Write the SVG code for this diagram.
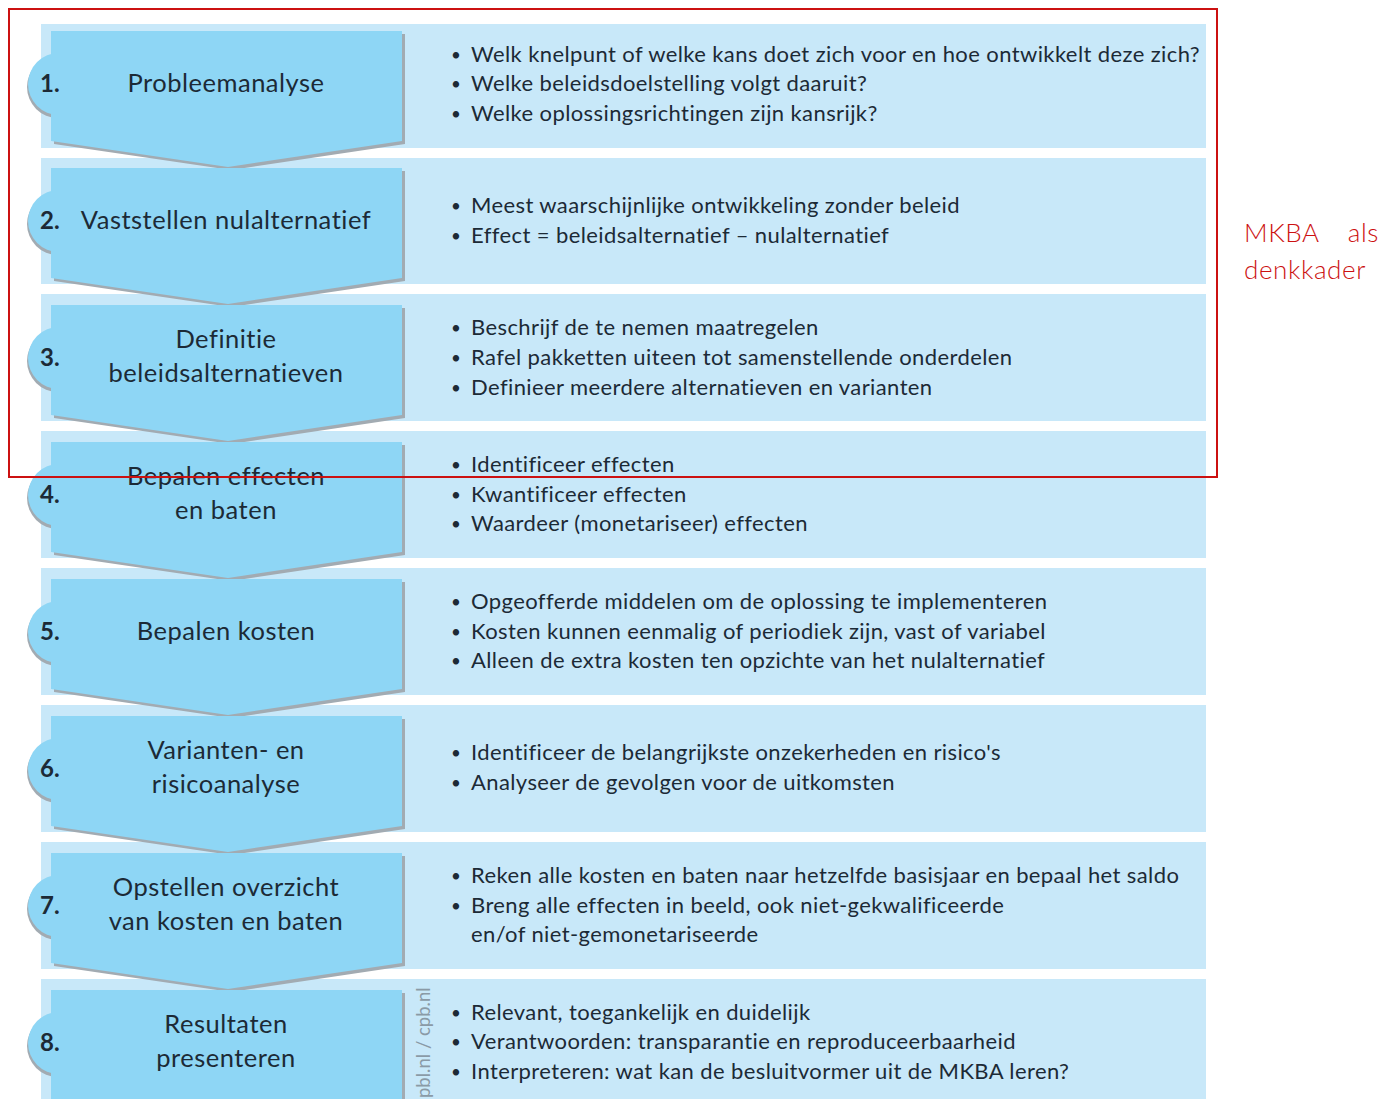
<svg xmlns="http://www.w3.org/2000/svg" width="1383" height="1099" viewBox="0 0 1383 1099">
<style>
.bg{fill:#c8e8f9}
.chev{fill:#8ed6f5}
.shd{fill:#a2abb2}
.num{font-family:Lato,"Open Sans",sans-serif;font-weight:bold;font-size:24px;fill:#1c2a36}
.ttl{font-family:Lato,"Open Sans",sans-serif;font-size:25.5px;letter-spacing:0.5px;fill:#1c2a36;text-anchor:middle}
.txt{font-family:Lato,"Open Sans",sans-serif;font-size:22px;letter-spacing:0.4px;fill:#1c2a36}
.bul{font-family:Lato,"Open Sans",sans-serif;font-size:17px;fill:#1c2a36}
.red{font-family:Lato,"Open Sans",sans-serif;font-weight:300;font-size:26px;letter-spacing:0.6px;fill:#cc1111}
</style>
<defs>
<g id="chevron">
<circle class="shd" cx="58" cy="3" r="31"/>
<polygon class="shd" points="54,-50 405,-50 405,60 231,86 54,60"/>
<circle class="chev" cx="59" cy="0" r="31"/>
<polygon class="chev" points="51,-53 402,-53 402,57 228,83 51,57"/>
</g>
</defs>
<rect width="1383" height="1099" fill="#ffffff"/>
<g id="backgrounds">
<rect class="bg" x="41" y="24" width="1165" height="124"/>
<rect class="bg" x="41" y="158" width="1165" height="126"/>
<rect class="bg" x="41" y="294" width="1165" height="127"/>
<rect class="bg" x="41" y="431" width="1165" height="127"/>
<rect class="bg" x="41" y="568" width="1165" height="127"/>
<rect class="bg" x="41" y="705" width="1165" height="127"/>
<rect class="bg" x="41" y="842" width="1165" height="127"/>
<rect class="bg" x="41" y="979" width="1165" height="130"/>
</g>
<g id="step1">
<use href="#chevron" y="84"/>
<text class="num" x="40" y="92">1.</text>
<text class="ttl" x="226" y="92">Probleemanalyse</text>
<text class="bul" x="451" y="61">•</text><text class="txt" x="471" y="62">Welk knelpunt of welke kans doet zich voor en hoe ontwikkelt deze zich?</text>
<text class="bul" x="451" y="90">•</text><text class="txt" x="471" y="91">Welke beleidsdoelstelling volgt daaruit?</text>
<text class="bul" x="451" y="120">•</text><text class="txt" x="471" y="121">Welke oplossingsrichtingen zijn kansrijk?</text>
</g>
<g id="step2">
<use href="#chevron" y="221"/>
<text class="num" x="40" y="229">2.</text>
<text class="ttl" x="226" y="229">Vaststellen nulalternatief</text>
<text class="bul" x="451" y="212">•</text><text class="txt" x="471" y="213">Meest waarschijnlijke ontwikkeling zonder beleid</text>
<text class="bul" x="451" y="242">•</text><text class="txt" x="471" y="243">Effect = beleidsalternatief – nulalternatief</text>
</g>
<g id="step3">
<use href="#chevron" y="358"/>
<text class="num" x="40" y="366">3.</text>
<text class="ttl" x="226" y="348">Definitie</text>
<text class="ttl" x="226" y="382">beleidsalternatieven</text>
<text class="bul" x="451" y="334">•</text><text class="txt" x="471" y="335">Beschrijf de te nemen maatregelen</text>
<text class="bul" x="451" y="364">•</text><text class="txt" x="471" y="365">Rafel pakketten uiteen tot samenstellende onderdelen</text>
<text class="bul" x="451" y="394">•</text><text class="txt" x="471" y="395">Definieer meerdere alternatieven en varianten</text>
</g>
<g id="step4">
<use href="#chevron" y="495"/>
<text class="num" x="40" y="503">4.</text>
<text class="ttl" x="226" y="485">Bepalen effecten</text>
<text class="ttl" x="226" y="519">en baten</text>
<text class="bul" x="451" y="471">•</text><text class="txt" x="471" y="472">Identificeer effecten</text>
<text class="bul" x="451" y="501">•</text><text class="txt" x="471" y="502">Kwantificeer effecten</text>
<text class="bul" x="451" y="530">•</text><text class="txt" x="471" y="531">Waardeer (monetariseer) effecten</text>
</g>
<g id="step5">
<use href="#chevron" y="632"/>
<text class="num" x="40" y="640">5.</text>
<text class="ttl" x="226" y="640">Bepalen kosten</text>
<text class="bul" x="451" y="608">•</text><text class="txt" x="471" y="609">Opgeofferde middelen om de oplossing te implementeren</text>
<text class="bul" x="451" y="638">•</text><text class="txt" x="471" y="639">Kosten kunnen eenmalig of periodiek zijn, vast of variabel</text>
<text class="bul" x="451" y="667">•</text><text class="txt" x="471" y="668">Alleen de extra kosten ten opzichte van het nulalternatief</text>
</g>
<g id="step6">
<use href="#chevron" y="769"/>
<text class="num" x="40" y="777">6.</text>
<text class="ttl" x="226" y="759">Varianten- en</text>
<text class="ttl" x="226" y="793">risicoanalyse</text>
<text class="bul" x="451" y="759">•</text><text class="txt" x="471" y="760">Identificeer de belangrijkste onzekerheden en risico's</text>
<text class="bul" x="451" y="789">•</text><text class="txt" x="471" y="790">Analyseer de gevolgen voor de uitkomsten</text>
</g>
<g id="step7">
<use href="#chevron" y="906"/>
<text class="num" x="40" y="914">7.</text>
<text class="ttl" x="226" y="896">Opstellen overzicht</text>
<text class="ttl" x="226" y="930">van kosten en baten</text>
<text class="bul" x="451" y="882">•</text><text class="txt" x="471" y="883">Reken alle kosten en baten naar hetzelfde basisjaar en bepaal het saldo</text>
<text class="bul" x="451" y="912">•</text><text class="txt" x="471" y="913">Breng alle effecten in beeld, ook niet-gekwalificeerde</text>
<text class="txt" x="471" y="942">en/of niet-gemonetariseerde</text>
</g>
<g id="step8">
<use href="#chevron" y="1043"/>
<text class="num" x="40" y="1051">8.</text>
<text class="ttl" x="226" y="1033">Resultaten</text>
<text class="ttl" x="226" y="1067">presenteren</text>
<text class="bul" x="451" y="1019">•</text><text class="txt" x="471" y="1020">Relevant, toegankelijk en duidelijk</text>
<text class="bul" x="451" y="1048">•</text><text class="txt" x="471" y="1049">Verantwoorden: transparantie en reproduceerbaarheid</text>
<text class="bul" x="451" y="1078">•</text><text class="txt" x="471" y="1079">Interpreteren: wat kan de besluitvormer uit de MKBA leren?</text>
</g>
<g id="credit">
<text transform="translate(430,1098) rotate(-90)" font-family="Lato,'Open Sans',sans-serif" font-size="18.5" fill="#8a9aa6">pbl.nl / cpb.nl</text>
</g>
<g id="frame">
<rect x="9" y="9" width="1208" height="468" fill="none" stroke="#cc1111" stroke-width="2"/>
<text class="red" x="1244" y="242">MKBA</text>
<text class="red" x="1379" y="242" text-anchor="end">als</text>
<text class="red" x="1244" y="279">denkkader</text>
</g>
</svg>
